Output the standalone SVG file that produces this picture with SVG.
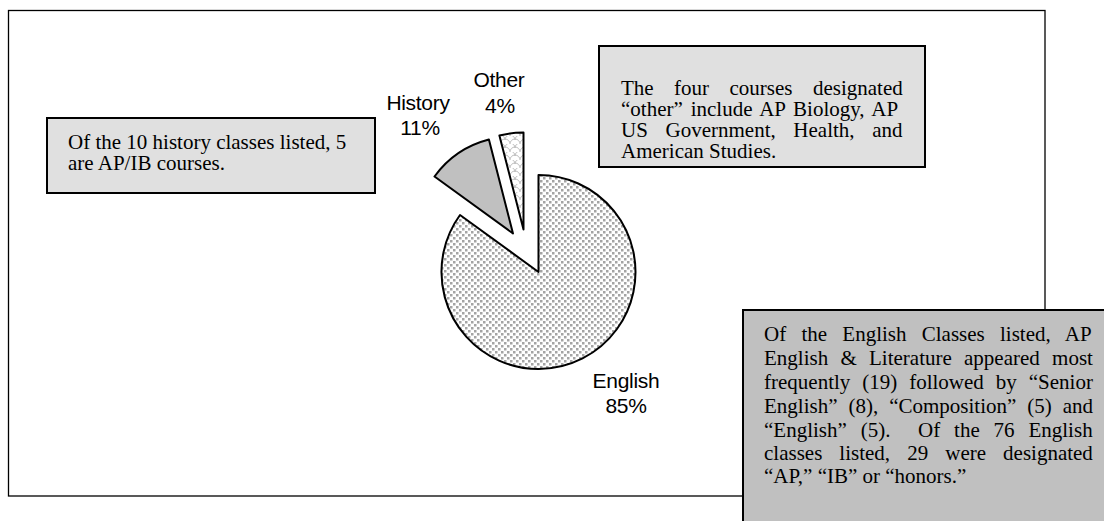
<svg xmlns="http://www.w3.org/2000/svg" width="1104" height="521" viewBox="0 0 1104 521">
<style>
.box{stroke:#000;stroke-width:2}
.bt{font-family:"Liberation Serif","Times New Roman",serif;font-size:21px;fill:#000}
.lbl{font-family:"Liberation Sans",Arial,sans-serif;font-size:21px;fill:#000;text-anchor:middle;letter-spacing:-0.3px}
.slice{stroke:#000;stroke-width:2;stroke-linejoin:round}
</style>
<defs>
<pattern id="dots" width="6" height="6" patternUnits="userSpaceOnUse">
<rect width="6" height="6" fill="#fff"/>
<rect x="0" y="0" width="2.5" height="2.5" fill="#a4a4a4"/>
<rect x="3" y="3" width="2.5" height="2.5" fill="#a4a4a4"/>
</pattern>
<pattern id="scales" width="10" height="8" patternUnits="userSpaceOnUse">
<rect width="10" height="8" fill="#fff"/>
<path d="M0,8 A5,5 0 0 1 10,8 M-5,4 A5,5 0 0 1 5,4 M5,4 A5,5 0 0 1 15,4" fill="none" stroke="#bdbdbd" stroke-width="1"/>
</pattern>
</defs>
<rect x="0" y="0" width="1104" height="521" fill="#fff"/>
<rect id="frame" x="8.5" y="10.5" width="1036.5" height="485.5" fill="#fff" stroke="#000" stroke-width="1.3"/>

<g id="pie">
<g id="slice-english"><path class="slice" fill="url(#dots)" d="M538.5,272 L538.5,175 A97,97 0 1 1 460,215 Z"/></g>
<g id="slice-history"><path class="slice" fill="#c0c0c0" d="M513,233.5 L434.5,176.5 A97,97 0 0 1 488.9,139.5 Z"/></g>
<g id="slice-other"><path class="slice" fill="url(#scales)" d="M523.5,229.5 L499.4,135.5 A97,97 0 0 1 523.5,132.5 Z"/></g>
</g>

<g id="labels">
<text class="lbl" x="418" y="110">History</text>
<text class="lbl" x="420" y="135">11%</text>
<text class="lbl" x="499" y="87">Other</text>
<text class="lbl" x="500" y="113">4%</text>
<text class="lbl" x="626" y="388">English</text>
<text class="lbl" x="626" y="413">85%</text>
</g>

<g id="note-history">
<rect class="box" x="47" y="118" width="328" height="75" fill="#e0e0e0"/>
<text class="bt" x="68" y="149">Of the 10 history classes listed, 5</text>
<text class="bt" x="68" y="170">are AP/IB courses.</text>
</g>

<g id="note-other">
<rect class="box" x="599" y="46" width="326" height="121" fill="#e0e0e0"/>
<text class="bt" x="621" y="95" word-spacing="15.2">The four courses designated</text>
<text class="bt" x="621" y="116" word-spacing="2.6">“other” include AP Biology, AP</text>
<text class="bt" x="621" y="137" word-spacing="12.4">US Government, Health, and</text>
<text class="bt" x="621" y="158">American Studies.</text>
</g>

<g id="note-english">
<rect class="box" x="743" y="310" width="370" height="220" fill="#c0c0c0"/>
<text class="bt" x="764" y="341" word-spacing="10">Of the English Classes listed, AP</text>
<text class="bt" x="764" y="365" word-spacing="7">English &amp; Literature appeared most</text>
<text class="bt" x="764" y="389" word-spacing="6.7">frequently (19) followed by “Senior</text>
<text class="bt" x="764" y="413" word-spacing="5.7">English” (8), “Composition” (5) and</text>
<text class="bt" x="764" y="437" word-spacing="8.6" xml:space="preserve">“English” (5).  Of the 76 English</text>
<text class="bt" x="764" y="460" word-spacing="11.8">classes listed, 29 were designated</text>
<text class="bt" x="764" y="483">“AP,” “IB” or “honors.”</text>
</g>
</svg>
